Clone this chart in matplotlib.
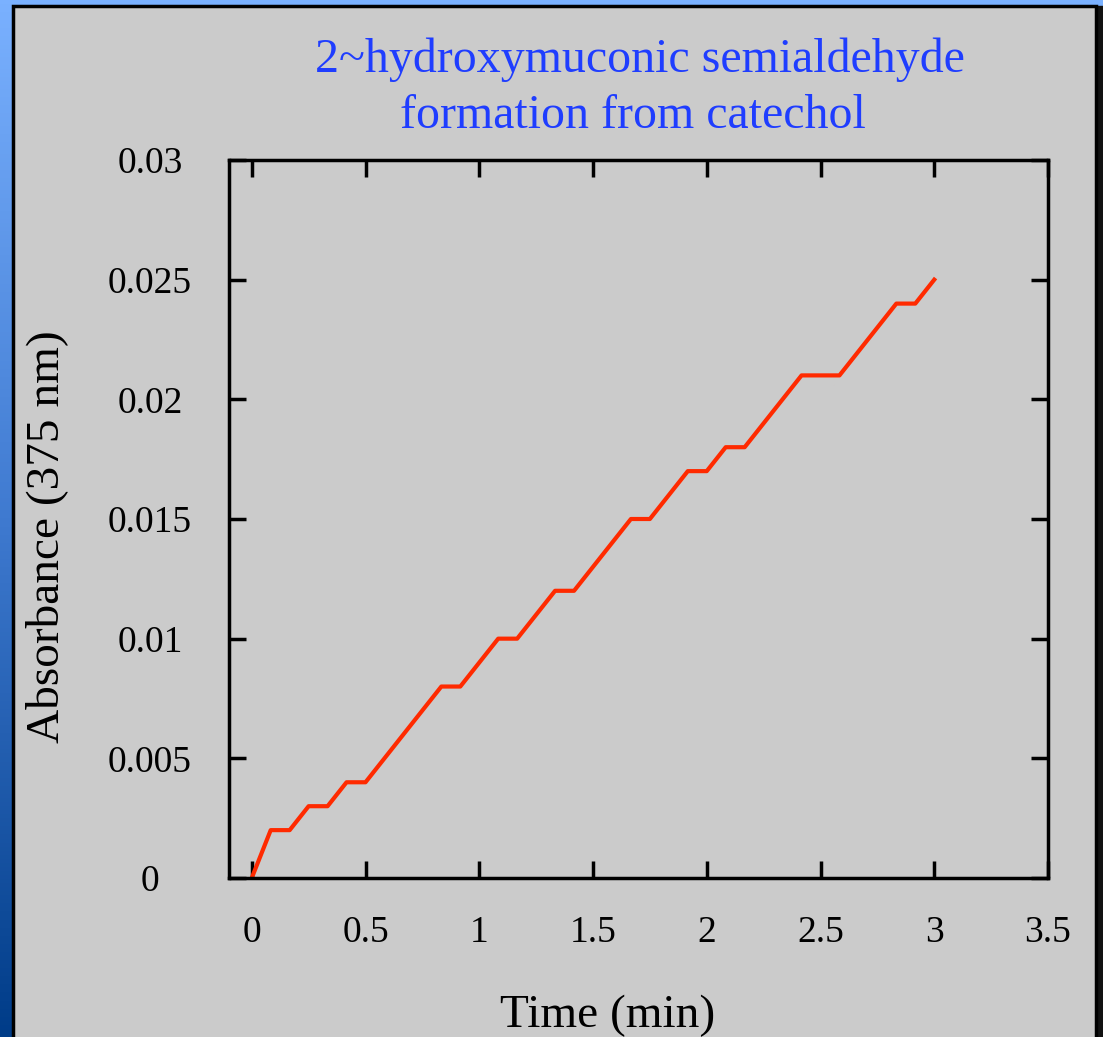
import numpy as np
import matplotlib.pyplot as plt
from matplotlib.patches import Rectangle

# Absorbance readings at 375 nm, one every 5 s
time_min = [i / 12 for i in range(37)]
absorbance = [0.0, 0.002, 0.002, 0.003, 0.003, 0.004, 0.004, 0.005, 0.006,
              0.007, 0.008, 0.008, 0.009, 0.010, 0.010, 0.011, 0.012, 0.012,
              0.013, 0.014, 0.015, 0.015, 0.016, 0.017, 0.017, 0.018, 0.018,
              0.019, 0.020, 0.021, 0.021, 0.021, 0.022, 0.023, 0.024, 0.024,
              0.025]
x_ticks = [0, 0.5, 1, 1.5, 2, 2.5, 3, 3.5]
x_labels = ["0", "0.5", "1", "1.5", "2", "2.5", "3", "3.5"]
y_ticks = [0, 0.005, 0.01, 0.015, 0.02, 0.025, 0.03]
y_labels = ["0", "0.005", "0.01", "0.015", "0.02", "0.025", "0.03"]

plt.rcParams["font.family"] = ["Liberation Serif", "DejaVu Serif"]

W, H = 1103, 1037
fig = plt.figure(figsize=(W / 100, H / 100), dpi=100)

# slide background: blue vertical gradient with a grey panel on top
bg = fig.add_axes([0, 0, 1, 1])
bg.set_axis_off()
grad = np.linspace(0, 1, 256).reshape(-1, 1)
cmap = plt.matplotlib.colors.LinearSegmentedColormap.from_list(
    "slide", ["#7ab1ff", "#3f7ad0", "#003c88"])
bg.imshow(grad, aspect="auto", cmap=cmap, extent=[0, 1, 0, 1], origin="upper")
bg.set_xlim(0, 1)
bg.set_ylim(0, 1)
bg.add_patch(Rectangle((1096 / W, 0), 7 / W, 1 - 6 / H, color="#111111"))
bg.add_patch(Rectangle((13 / W, -0.01), (1096 - 13) / W, 1 - 6 / H + 0.01,
                       facecolor="#cbcbcb", edgecolor="black", linewidth=2.5))

# plot frame in pixels: left 229, right 1048, top 160, bottom 878
ax = fig.add_axes([229 / W, 1 - 878 / H, (1048 - 229) / W, (878 - 160) / H])
ax.set_facecolor("none")
ax.plot(time_min, absorbance, color="#ff2a00", linewidth=3)

ax.set_xlim(-0.1, 3.5)
ax.set_ylim(0, 0.03)
ax.set_xticks(x_ticks)
ax.set_xticklabels(x_labels)
ax.set_yticks(y_ticks)
ax.set_yticklabels(y_labels, ha="center")
ax.tick_params(direction="in", length=12, width=2.5, labelsize=27,
               top=True, right=True, colors="black")
ax.tick_params(axis="x", pad=27)
ax.tick_params(axis="y", pad=57)
for s in ax.spines.values():
    s.set_linewidth(2.5)

ax.set_xlabel("Time (min)", fontsize=34)
ax.xaxis.set_label_coords(0.4627, -0.163)
ax.set_ylabel("Absorbance (375 nm)", fontsize=34)
ax.yaxis.set_label_coords(-0.1966, 0.476)

fig.text(640 / W, 1 - 60 / H, "2~hydroxymuconic semialdehyde",
         color="#1f3dff", fontsize=34.5, ha="center", va="center")
fig.text(633 / W, 1 - 116 / H, "formation from catechol",
         color="#1f3dff", fontsize=34.5, ha="center", va="center")

fig.savefig("out.png", dpi=100)
